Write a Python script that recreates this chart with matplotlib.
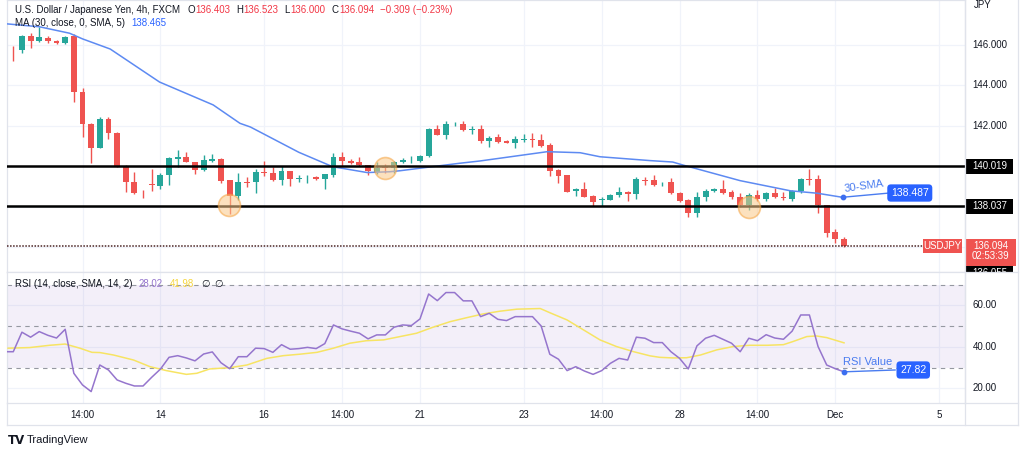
import numpy as np
import matplotlib
matplotlib.use('Agg')
import matplotlib.pyplot as plt
from matplotlib.patches import Rectangle

plt.rcParams['font.family'] = ['Liberation Sans', 'DejaVu Sans']

# ---- data (4h candles, index = bar number) ----
opens = [145.82, 145.75, 146.44, 146.18, 146.36, 146.2, 146.1, 146.44, 143.69, 142.1,
         140.9, 142.33, 141.67, 140.02, 139.23, 138.76, 139.12, 139.05, 139.58, 140.36,
         140.48, 140.24, 139.83, 140.26, 140.36, 139.33, 138.54, 139.25, 139.25, 139.75,
         139.7, 139.33, 139.79, 139.38, 139.42, 139.5, 139.37, 139.56, 140.48, 140.29,
         140.2, 140.06, 139.73, 139.95, 139.91, 140.22, 140.3, 140.26, 140.52, 141.84,
         141.57, 142.08, 142.1, 141.82, 141.84, 141.24, 141.45, 141.27, 141.18, 141.32,
         141.38, 141.31, 141.05, 139.83, 139.57, 138.78, 138.9, 138.54, 138.35, 138.35,
         138.58, 138.75, 138.64, 139.35, 139.33, 139.12, 139.23, 138.68, 138.35, 137.72,
         138.48, 138.78, 138.9, 138.74, 138.48, 138.08, 138.58, 138.41, 138.68, 138.48,
         138.41, 138.78, 139.38, 139.37, 138.08, 136.77, 136.403]
highs = [145.95, 146.5, 146.57, 146.9, 146.45, 146.25, 146.45, 146.54, 143.86, 142.16,
         142.43, 142.43, 141.72, 140.07, 139.74, 138.84, 139.86, 139.66, 140.47, 140.8,
         140.72, 140.24, 140.55, 140.6, 140.42, 139.33, 139.7, 139.5, 139.86, 140.29,
         139.99, 140.02, 139.8, 139.6, 139.6, 139.55, 139.63, 140.65, 140.72, 140.36,
         140.48, 140.06, 140.2, 140.1, 140.27, 140.4, 140.5, 140.55, 141.9, 142.05,
         142.23, 142.2, 142.23, 142.0, 142.05, 141.5, 141.6, 141.3, 141.5, 141.62,
         141.65, 141.6, 141.14, 139.86, 139.57, 138.96, 139.25, 138.6, 138.5, 138.62,
         139.0, 138.8, 139.47, 139.47, 139.57, 139.25, 139.43, 138.75, 138.4, 138.74,
         138.9, 138.95, 139.33, 138.84, 138.71, 138.68, 138.84, 138.75, 138.94, 138.74,
         138.85, 139.43, 139.89, 139.6, 138.08, 136.9, 136.523]
lows = [145.23, 145.6, 145.84, 146.15, 146.1, 146.05, 146.05, 143.2, 141.47, 140.19,
        140.9, 141.34, 139.99, 138.76, 138.66, 138.45, 138.8, 138.9, 139.1, 139.99,
        140.2, 139.63, 139.8, 140.2, 139.17, 137.65, 138.33, 138.98, 138.71, 139.55,
        139.27, 139.1, 139.05, 139.25, 139.2, 139.35, 138.88, 139.5, 140.0, 140.1,
        140.0, 139.6, 139.65, 139.7, 139.7, 140.18, 140.15, 140.2, 140.48, 141.57,
        141.34, 142.0, 141.73, 141.6, 141.14, 140.96, 141.15, 141.15, 140.9, 141.22,
        140.98, 140.96, 139.53, 139.17, 138.74, 138.56, 138.5, 138.05, 138.05, 138.33,
        138.5, 138.3, 138.41, 139.1, 139.05, 139.05, 138.62, 138.26, 137.49, 137.52,
        138.3, 138.74, 138.66, 138.38, 137.98, 137.85, 138.3, 138.3, 138.43, 138.35,
        138.3, 138.7, 139.07, 137.69, 136.5, 136.2, 136.0]
closes = [145.78, 146.44, 146.18, 146.38, 146.2, 146.1, 146.4, 143.68, 142.1, 140.9,
          142.33, 141.67, 139.99, 139.23, 138.71, 138.72, 139.08, 139.58, 140.4, 140.48,
          140.2, 139.83, 140.3, 140.36, 139.27, 138.54, 139.23, 139.2, 139.74, 139.7,
          139.33, 139.79, 139.4, 139.42, 139.45, 139.38, 139.63, 140.48, 140.26, 140.16,
          140.06, 139.76, 139.93, 139.92, 140.24, 140.32, 140.33, 140.52, 141.84, 141.57,
          142.1, 142.12, 141.8, 141.86, 141.24, 141.42, 141.2, 141.18, 141.34, 141.38,
          141.32, 141.01, 139.79, 139.53, 138.76, 138.9, 138.51, 138.26, 138.4, 138.6,
          138.74, 138.64, 139.37, 139.3, 139.1, 139.15, 138.68, 138.31, 137.72, 138.48,
          138.78, 138.9, 138.71, 138.48, 138.08, 138.58, 138.41, 138.68, 138.48, 138.45,
          138.78, 139.37, 139.33, 138.08, 136.73, 136.4, 136.094]

# 30 SMA line (bar position, value)
ma_idx = [-0.7, 3.0, 6.5, 8.0, 11.2, 16.9, 23.1, 26.2, 27.4, 33.0, 36.9, 40.9, 43.5, 44.7,
          51.6, 53.9, 61.7, 65.5, 67.8, 73.6, 76.2, 77.4, 84.0, 89.8, 92.9, 96.0]
ma_val = [147.04, 146.9, 146.58, 146.3, 145.8, 144.17, 143.04, 142.13, 141.95, 140.7,
          139.99, 139.7, 139.74, 139.79, 140.16, 140.27, 140.73, 140.68, 140.48, 140.29,
          140.22, 140.07, 139.3, 138.8, 138.68, 138.465]

# RSI(14) per bar, first value is the bar before the view
rsi_val = [37.7, 37.7, 47.1, 44.7, 47.4, 45.6, 44.3, 48.5, 27.3, 21.7, 18.5,
           31.3, 28.9, 24.1, 22.5, 21.2, 21.2, 25.4, 29.3, 35.0, 35.8,
           34.7, 33.3, 36.6, 37.6, 32.4, 29.5, 35.3, 35.3, 39.4, 39.2,
           37.4, 41.1, 38.9, 39.2, 39.8, 39.2, 41.6, 50.6, 48.7, 47.6,
           46.6, 43.9, 45.8, 45.8, 49.5, 50.6, 50.3, 53.5, 65.5, 62.3,
           66.2, 66.2, 62.2, 62.2, 54.6, 56.2, 53.3, 52.7, 54.6, 54.6,
           54.6, 50.1, 36.5, 34.1, 28.6, 30.5, 28.4, 26.8, 28.6, 32.1,
           34.5, 33.7, 44.7, 44.2, 42.1, 42.1, 37.7, 34.5, 29.4, 40.5,
           44.2, 45.6, 43.7, 41.8, 37.7, 44.2, 43.0, 45.9, 44.3, 43.7,
           47.6, 55.4, 55.4, 40.2, 31.3, 29.5, 28.02]
rsi_idx = list(range(-1, len(rsi_val) - 1))

# RSI-based SMA (yellow)
rma_idx = [-0.6, 1.9, 4.2, 6.0, 7.7, 9.1, 10.0, 11.6, 13.9, 15.8, 17.7, 20.0, 21.2, 22.7,
           25.0, 27.0, 29.3, 31.2, 33.1, 35.1, 37.0, 38.9, 40.8, 42.8, 44.7, 46.6, 48.5,
           50.5, 52.4, 54.3, 56.2, 58.2, 60.9, 62.0, 64.0, 65.9, 67.8, 69.7, 71.7, 73.6,
           74.7, 76.3, 77.8, 79.4, 81.3, 83.2, 85.1, 87.1, 89.0, 90.1, 91.7, 92.8, 94.0, 96.0]
rma_val = [39.4, 39.7, 40.8, 41.4, 39.4, 37.4, 37.3, 36.1, 33.7, 30.5, 28.6, 26.8, 27.3, 29.4,
           30.0, 31.3, 34.5, 35.8, 36.5, 37.4, 39.4, 41.8, 43.0, 43.4, 45.0, 46.6, 49.5,
           52.2, 54.1, 55.9, 57.2, 58.2, 58.5, 56.5, 53.0, 48.2, 43.4, 40.2, 37.7, 35.7,
           35.0, 34.7, 34.8, 36.1, 38.6, 40.2, 40.8, 40.8, 41.1, 42.6, 45.0, 45.3, 44.5, 41.98]

levels = [140.019, 138.037]
last_price = 136.094
circle_idx = [24.9, 43.0, 85.0]
circle_price = [138.1, 139.93, 138.0]
price_ticks = [146, 144, 142]
rsi_ticks = [60, 40, 20]
tick_pos = [8, 17, 29, 38, 47, 59, 68, 77, 86, 95, 107]
tick_labels = ['14:00', '14', '16', '14:00', '21', '23', '14:00', '28', '14:00', 'Dec', '5']

W, H = 1024, 454
UP, DOWN = '#26a69a', '#ef5350'
GRID = '#f0f3fa'
BORDER = '#e0e3eb'
TXT = '#131722'
BLUE = '#2962ff'
RED_TXT = '#f23645'
FS = 7

fig = plt.figure(figsize=(W / 100, H / 100), dpi=100)
renderer = fig.canvas.get_renderer()


def px_axes(x0, y0, x1, y1):
    return fig.add_axes([x0 / W, 1 - y1 / H, (x1 - x0) / W, (y1 - y0) / H])


def chain_text(x, y, parts):
    # lay out text pieces left to right, each followed by its own gap (px)
    for s, col, gap in parts:
        t = fig.text(x / W, 1 - y / H, s, va='center', fontsize=FS, color=col)
        x += t.get_window_extent(renderer=renderer).width + gap


ax = px_axes(7.3, 0, 965, 272)
ax_r = px_axes(7.3, 272, 965, 403)
ax_p = px_axes(965, 0, 1018, 272)
ax_rp = px_axes(965, 272, 1018, 403)

xlim = (-0.69, 109.98)
for a in (ax, ax_r):
    a.set_xlim(*xlim)
    a.set_xticks(tick_pos)
    a.grid(True, color=GRID, lw=0.9)
    a.tick_params(length=0, labelleft=False, labelbottom=False)
    for s in a.spines.values():
        s.set_color(BORDER)
        s.set_linewidth(0.9)
    a.set_axisbelow(True)

ax.set_ylim(134.79, 148.22)
ax.set_yticks([136, 138, 140, 142, 144, 146])
ax_r.set_ylim(13.0, 76.1)
ax_r.set_yticks(rsi_ticks)

# candles
idx = np.arange(len(opens))
o = np.array(opens)
c = np.array(closes)
cols = [UP if cc >= oo else DOWN for oo, cc in zip(o, c)]
ax.vlines(idx, lows, highs, colors=cols, lw=1, zorder=3)
body = np.maximum(np.abs(c - o), 0.03)
ax.bar(idx, body, bottom=np.minimum(o, c), width=0.68, color=cols, zorder=4)

# moving average
ax.plot(ma_idx, ma_val, color='#5d8af2', lw=1.1, zorder=5)

# support / resistance
for lv in levels:
    ax.axhline(lv, color='black', lw=1.8, zorder=6)
ax.plot([xlim[0], 105.1], [last_price, last_price], color='#4a2424',
        lw=1.1, ls=(0, (1, 1)), zorder=6)

ax.scatter(circle_idx, circle_price, s=250, facecolor='#fbc98a', edgecolor='#f5a340',
           alpha=0.55, lw=1.2, zorder=7)

# 30-SMA callout
ax.plot([ma_idx[-1] - 0.15, 101.0], [ma_val[-1] + 0.015, 138.68], color='#4a7cf0', lw=1, zorder=8)
ax.scatter([ma_idx[-1] - 0.15], [ma_val[-1] + 0.015], s=10, color='#3c6ef0', zorder=9)
ax.text(98.3, 139.02, '30-SMA', color='#4a7cf0', fontsize=8, rotation=8,
        ha='center', va='center', zorder=9)
ax.text(103.6, 138.69, '138.487', color='white', fontsize=7.5, ha='center', va='center',
        bbox=dict(boxstyle='round,pad=0.35', fc=BLUE, ec='none'), zorder=9)

# USDJPY tag
ax.add_patch(Rectangle((105.1, 135.73), 4.5, 0.69, fc=DOWN, ec='none', zorder=9))
ax.text(107.35, 136.07, 'USDJPY', color='white', fontsize=FS, ha='center', va='center', zorder=10)

# price scale
ax_p.set_xlim(0, 53)
ax_p.set_ylim(134.79, 148.22)
ax_p.axis('off')
for p in price_ticks:
    ax_p.text(25, p, '%.3f' % p, fontsize=FS, color=TXT, ha='center', va='center')
ax_p.text(18, 147.97, 'JPY', fontsize=FS, color=TXT, ha='center', va='center')
for lv in levels:
    ax_p.add_patch(Rectangle((1, lv - 0.37), 47, 0.74, fc='black', ec='none'))
    ax_p.text(24.5, lv, '%.3f' % lv, fontsize=FS, color='white', ha='center', va='center')
ax_p.add_patch(Rectangle((1, 134.42), 47, 0.74, fc='black', ec='none', clip_on=True))
t = ax_p.text(24.5, 134.72, '136.055', fontsize=FS, color='white', ha='center', va='center')
t.set_clip_on(True)
ax_p.add_patch(Rectangle((0, 135.11), 51, 1.31, fc=DOWN, ec='none', zorder=3))
ax_p.text(25.5, last_price, '%.3f' % last_price, fontsize=FS, color='white',
          ha='center', va='center', zorder=4)
ax_p.text(25.5, 135.58, '02:53:39', fontsize=FS, color='white',
          ha='center', va='center', zorder=4)

# RSI panel
ax_r.axhspan(30, 70, color='#7e57c2', alpha=0.09, lw=0)
for lv in (70, 50, 30):
    ax_r.axhline(lv, color='#9598a1', lw=0.8, ls=(0, (4, 4)))
ax_r.plot(rma_idx, rma_val, color='#f7e463', lw=1.1, zorder=4)
ax_r.plot(rsi_idx, rsi_val, color='#9575cd', lw=1.1, zorder=5)
ax_r.plot([96, 101.9], [rsi_val[-1], 28.9], color='#4a7cf0', lw=1, zorder=6)
ax_r.scatter([96], [rsi_val[-1]], s=10, color='#3c6ef0', zorder=7)
ax_r.text(98.7, 32.9, 'RSI Value', color='#4a7cf0', fontsize=8, ha='center', va='center')
ax_r.text(104.0, 28.9, '27.82', color='white', fontsize=7.5, ha='center', va='center',
          bbox=dict(boxstyle='round,pad=0.35', fc=BLUE, ec='none'), zorder=8)
ax_r.tick_params(labelbottom=True, pad=5, labelsize=FS, labelcolor=TXT)
ax_r.set_xticklabels(tick_labels)

ax_rp.set_xlim(0, 53)
ax_rp.set_ylim(13.0, 76.1)
ax_rp.axis('off')
for v in rsi_ticks:
    ax_rp.text(20, v, '%.2f' % v, fontsize=FS, color=TXT, ha='center', va='center')

# frame lines
fig.add_artist(plt.Line2D([965 / W, 965 / W], [1 - 425 / H, 1], color=BORDER, lw=0.9))
fig.add_artist(plt.Line2D([7.3 / W, 1018 / W], [1 - 425 / H, 1 - 425 / H], color=BORDER, lw=0.9))
fig.add_artist(plt.Line2D([7.3 / W, 7.3 / W], [1 - 425 / H, 1 - 403 / H], color=BORDER, lw=0.9))
fig.add_artist(plt.Line2D([1018 / W, 1018 / W], [1 - 425 / H, 1], color=BORDER, lw=0.9))
fig.add_artist(plt.Line2D([965 / W, 1018 / W], [1 - 272 / H, 1 - 272 / H], color=BORDER, lw=0.9))
fig.add_artist(plt.Line2D([965 / W, 1018 / W], [1 - 403 / H, 1 - 403 / H], color=BORDER, lw=0.9))

# legends / headers
chain_text(15, 10, [('U.S. Dollar / Japanese Yen, 4h, FXCM', TXT, 7),
                    ('O', TXT, 0.5), ('136.403', RED_TXT, 6),
                    ('H', TXT, 0.5), ('136.523', RED_TXT, 6),
                    ('L', TXT, 0.5), ('136.000', RED_TXT, 6),
                    ('C', TXT, 0.5), ('136.094', RED_TXT, 6),
                    ('\u22120.309 (\u22120.23%)', RED_TXT, 0)])
chain_text(15, 23.5, [('MA (30, close, 0, SMA, 5)', TXT, 6.5), ('138.465', BLUE, 0)])
chain_text(15, 284, [('RSI (14, close, SMA, 14, 2)', TXT, 6.5), ('28.02', '#9575cd', 6.5),
                     ('41.98', '#f5d53c', 7), ('\u2205', TXT, 5), ('\u2205', TXT, 0)])

fig.text(8 / W, 1 - 440 / H, 'TV', fontsize=8.5, fontweight='heavy', color=TXT, va='center',
         family=['DejaVu Sans'])
fig.text(27 / W, 1 - 440 / H, 'TradingView', fontsize=8, color=TXT, va='center')

fig.savefig('out.png', dpi=100)
